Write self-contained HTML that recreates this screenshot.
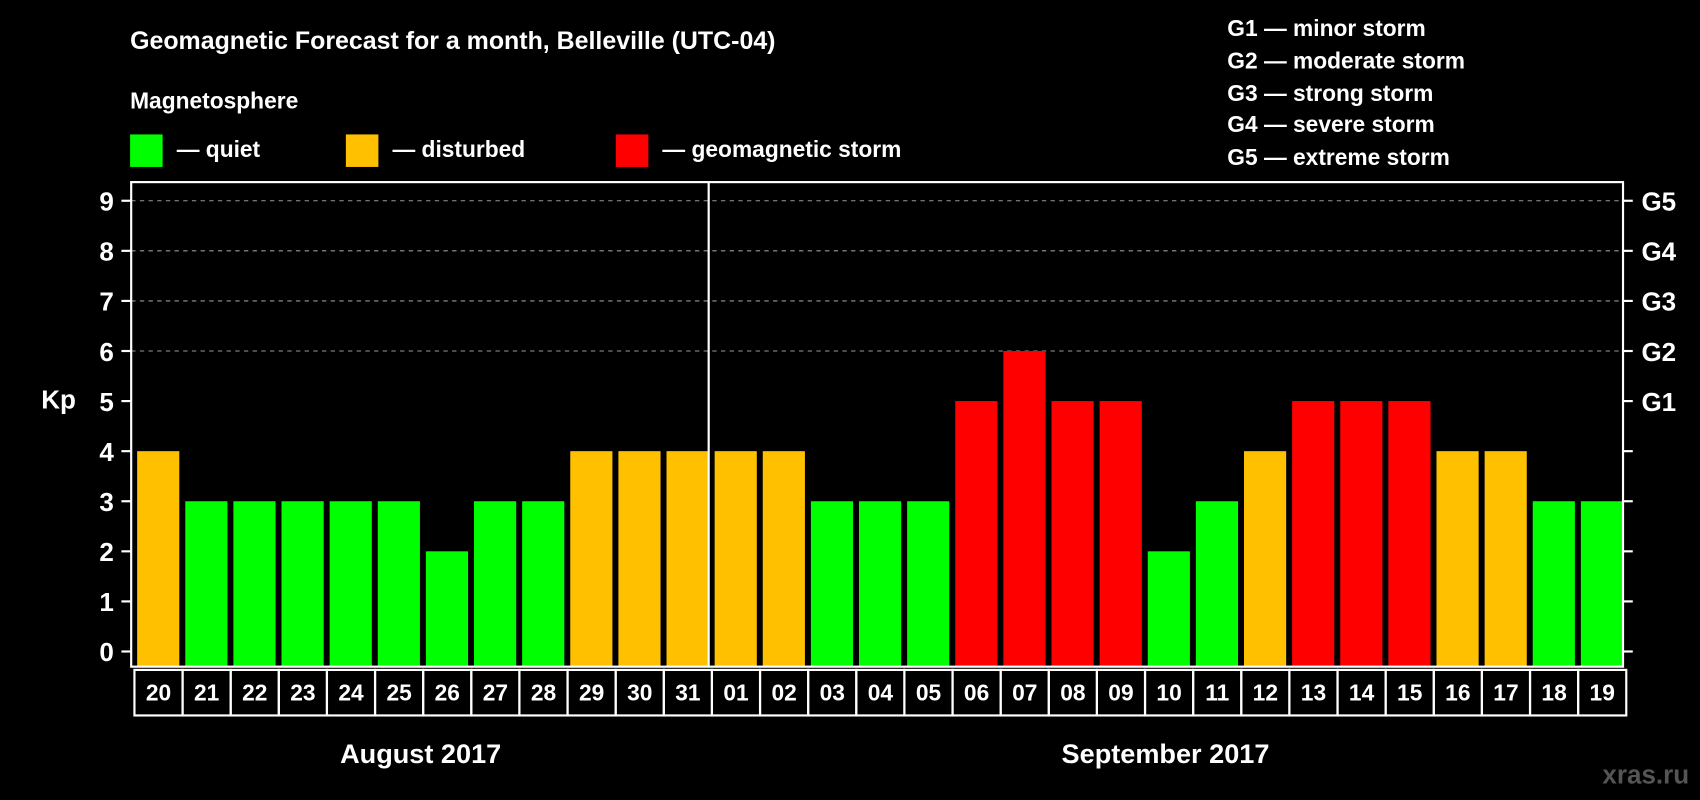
<!DOCTYPE html>
<html><head><meta charset="utf-8"><style>
html,body{margin:0;padding:0;background:#000;}
svg{display:block;font-family:"Liberation Sans",sans-serif;font-weight:bold;}
</style></head><body>
<svg id="chart" width="1700" height="800" viewBox="0 0 1568 738" preserveAspectRatio="none">
<rect width="1568" height="738" fill="#000"/>
<text x="120" y="45" fill="#fff" font-size="23">Geomagnetic Forecast for a month, Belleville (UTC-04)</text>
<text x="120" y="100" fill="#fff" font-size="21">Magnetosphere</text>
<g><rect x="120" y="124" width="30" height="30" fill="#00ff00"/><text x="163" y="145" fill="#fff" font-size="21">— quiet</text></g>
<g><rect x="319" y="124" width="30" height="30" fill="#ffc000"/><text x="362" y="145" fill="#fff" font-size="21">— disturbed</text></g>
<g><rect x="568" y="124" width="30" height="30" fill="#ff0000"/><text x="611" y="145" fill="#fff" font-size="21">— geomagnetic storm</text></g>
<g fill="#fff" font-size="21">
<text x="1132" y="33">G1 — minor storm</text>
<text x="1132" y="63">G2 — moderate storm</text>
<text x="1132" y="93">G3 — strong storm</text>
<text x="1132" y="122">G4 — severe storm</text>
<text x="1132" y="152">G5 — extreme storm</text>
</g>
<text x="38" y="377" fill="#fff" font-size="24">Kp</text>
<g id="plot"></g>
<text x="388" y="704" fill="#fff" font-size="25" text-anchor="middle">August 2017</text>
<text x="1075" y="704" fill="#fff" font-size="25" text-anchor="middle">September 2017</text>
<text x="1558" y="723" fill="#555" font-size="24" text-anchor="end">xras.ru</text>
</svg>
<script>
const days = ["20","21","22","23","24","25","26","27","28","29","30","31","01","02","03","04","05","06","07","08","09","10","11","12","13","14","15","16","17","18","19"];
const kp = [4,3,3,3,3,3,2,3,3,4,4,4,4,4,3,3,3,5,6,5,5,2,3,4,5,5,5,4,4,3,3];
const yTicks = [0,1,2,3,4,5,6,7,8,9];
const gLabels = ["G1","G2","G3","G4","G5"];
const gLevels = [5,6,7,8,9];
const NS="http://www.w3.org/2000/svg";
const L=121,R=1497,T=168,B=615,Y0=601,UNIT=46.2;
const step=(R-L)/days.length;
const y=v=>Y0-v*UNIT;
const x=i=>L+i*step;
const g=document.getElementById('plot');
function mk(t,a){const e=document.createElementNS(NS,t);for(const k in a)e.setAttribute(k,a[k]);g.appendChild(e);return e;}
gLevels.forEach(v=>{if(v>=6){const e=mk('line',{x1:L,x2:R,y1:y(v),y2:y(v),stroke:'#999','stroke-dasharray':'4,4','stroke-width':1});

}});
kp.forEach((v,i)=>{const c=v>=5?'#ff0000':v>=4?'#ffc000':'#00ff00';
const r=mk('rect',{x:x(i)+5.5,y:y(v),width:step-5.5,height:Y0-y(v)+14,fill:c});


const b=mk('rect',{x:x(i)+3,y:B+3,width:step,height:42,fill:'none',stroke:'#fff','stroke-width':2});


const t=mk('text',{x:x(i)+3+step/2,y:B+31,fill:'#fff','font-size':21,'text-anchor':'middle'});t.textContent=days[i];

});
const fr=mk('rect',{x:L,y:T,width:R-L,height:B-T,fill:'none',stroke:'#fff','stroke-width':2});


const dv=mk('line',{x1:x(12),x2:x(12),y1:T,y2:B,stroke:'#fff','stroke-width':2});


yTicks.forEach(v=>{const a=mk('line',{x1:L-9,x2:L,y1:y(v),y2:y(v),stroke:'#fff','stroke-width':2});


const b=mk('line',{x1:R,x2:R+9,y1:y(v),y2:y(v),stroke:'#fff','stroke-width':2});


const t=mk('text',{x:L-16,y:y(v)+9,fill:'#fff','font-size':24,'text-anchor':'end'});t.textContent=v;

});
gLabels.forEach((s,i)=>{const t=mk('text',{x:R+17,y:y(gLevels[i])+9,fill:'#fff','font-size':24});t.textContent=s;

});
</script>
</body></html>
